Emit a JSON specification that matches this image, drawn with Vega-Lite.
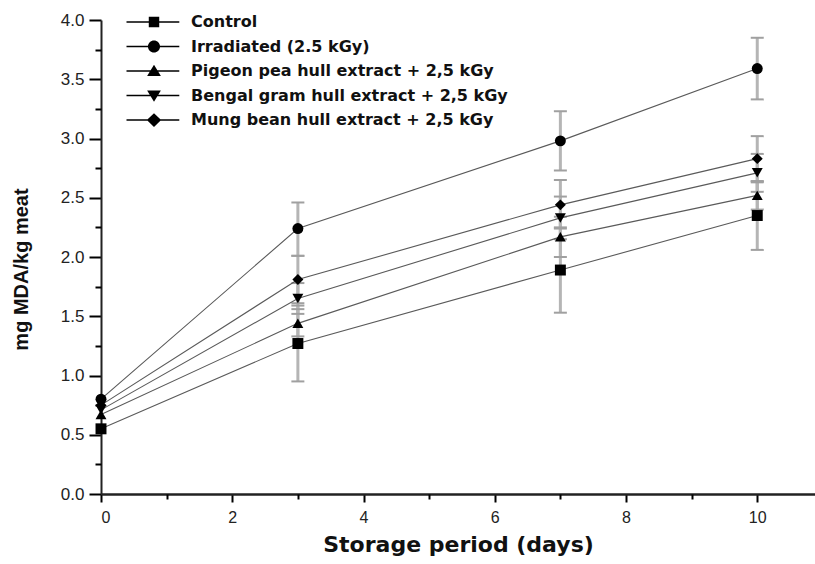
{
  "$schema": "https://vega.github.io/schema/vega-lite/v6.json",
  "width": 714,
  "height": 474,
  "autosize": {"type": "none"},
  "padding": {"left": 101, "top": 20, "right": 0, "bottom": 70},
  "config": {"view": {"stroke": "transparent"}},
  "data": {
    "values": [
      {"series": "Control", "day": 0, "mda": 0.55, "lo": null, "hi": null},
      {"series": "Control", "day": 3, "mda": 1.27, "lo": 0.95, "hi": 1.59},
      {"series": "Control", "day": 7, "mda": 1.89, "lo": 1.53, "hi": 2.25},
      {"series": "Control", "day": 10, "mda": 2.35, "lo": 2.06, "hi": 2.63},
      {"series": "Irradiated (2.5 kGy)", "day": 0, "mda": 0.80, "lo": null, "hi": null},
      {"series": "Irradiated (2.5 kGy)", "day": 3, "mda": 2.24, "lo": 2.01, "hi": 2.46},
      {"series": "Irradiated (2.5 kGy)", "day": 7, "mda": 2.98, "lo": 2.73, "hi": 3.23},
      {"series": "Irradiated (2.5 kGy)", "day": 10, "mda": 3.59, "lo": 3.33, "hi": 3.85},
      {"series": "Pigeon pea hull extract + 2,5 kGy", "day": 0, "mda": 0.67, "lo": null, "hi": null},
      {"series": "Pigeon pea hull extract + 2,5 kGy", "day": 3, "mda": 1.44, "lo": 1.33, "hi": 1.56},
      {"series": "Pigeon pea hull extract + 2,5 kGy", "day": 7, "mda": 2.17, "lo": 2.00, "hi": 2.34},
      {"series": "Pigeon pea hull extract + 2,5 kGy", "day": 10, "mda": 2.52, "lo": 2.40, "hi": 2.64},
      {"series": "Bengal gram hull extract + 2,5 kGy", "day": 0, "mda": 0.71, "lo": null, "hi": null},
      {"series": "Bengal gram hull extract + 2,5 kGy", "day": 3, "mda": 1.65, "lo": 1.52, "hi": 1.78},
      {"series": "Bengal gram hull extract + 2,5 kGy", "day": 7, "mda": 2.33, "lo": 2.15, "hi": 2.51},
      {"series": "Bengal gram hull extract + 2,5 kGy", "day": 10, "mda": 2.71, "lo": 2.55, "hi": 2.87},
      {"series": "Mung bean hull extract + 2,5 kGy", "day": 0, "mda": 0.75, "lo": null, "hi": null},
      {"series": "Mung bean hull extract + 2,5 kGy", "day": 3, "mda": 1.81, "lo": 1.61, "hi": 2.01},
      {"series": "Mung bean hull extract + 2,5 kGy", "day": 7, "mda": 2.44, "lo": 2.24, "hi": 2.65},
      {"series": "Mung bean hull extract + 2,5 kGy", "day": 10, "mda": 2.83, "lo": 2.64, "hi": 3.02}
    ]
  },
  "encoding": {
    "x": {"field": "day", "type": "quantitative", "scale": {"domain": [0, 10.88], "nice": false}, "axis": null},
    "y": {"field": "mda", "type": "quantitative", "scale": {"domain": [0, 4], "nice": false}, "axis": null}
  },
  "layer": [
    {
      "mark": {"type": "rule", "color": "#b5b5b5", "strokeWidth": 3},
      "encoding": {"y": {"field": "lo", "type": "quantitative", "axis": null}, "y2": {"field": "hi"}}
    },
    {
      "mark": {"type": "tick", "orient": "horizontal", "color": "#a0a0a0", "size": 13, "thickness": 2, "opacity": 1},
      "encoding": {"y": {"field": "lo", "type": "quantitative", "axis": null}}
    },
    {
      "mark": {"type": "tick", "orient": "horizontal", "color": "#a0a0a0", "size": 13, "thickness": 2, "opacity": 1},
      "encoding": {"y": {"field": "hi", "type": "quantitative", "axis": null}}
    },
    {
      "mark": {"type": "line", "color": "#5a5a5a", "strokeWidth": 1.1},
      "encoding": {"detail": {"field": "series"}}
    },
    {
      "mark": {"type": "point", "filled": true, "color": "black", "opacity": 1, "size": 120},
      "encoding": {
        "x": {
          "field": "day", "type": "quantitative",
          "axis": {
            "orient": "bottom", "gridOpacity": 0,
            "title": "Storage period (days)",
            "titleFont": "DejaVu Sans", "titleFontSize": 22, "titleFontWeight": "bold", "titlePadding": 9, "titleColor": "#111",
            "values": [0, 2, 4, 6, 8, 10],
            "labelFont": "Liberation Sans", "labelFontSize": 16, "labelPadding": 7, "labelColor": "#222",
            "tickSize": 8, "tickWidth": 2, "tickColor": "black", "domainWidth": 2.5, "domainColor": "#222"
          }
        },
        "y": {
          "field": "mda", "type": "quantitative",
          "axis": {
            "orient": "left", "gridOpacity": 0,
            "title": "mg MDA/kg meat",
            "titleFont": "Liberation Sans", "titleFontSize": 20, "titleFontWeight": "bold", "titlePadding": 29, "titleY": 249, "titleColor": "#111",
            "values": [0, 0.5, 1, 1.5, 2, 2.5, 3, 3.5, 4],
            "format": ".1f",
            "labelFont": "Liberation Sans", "labelFontSize": 17, "labelPadding": 5, "labelColor": "#222",
            "tickSize": 12, "tickWidth": 2, "tickColor": "black", "domainWidth": 2, "domainColor": "#222"
          }
        },
        "shape": {
          "field": "series", "type": "nominal",
          "scale": {
            "domain": ["Control", "Irradiated (2.5 kGy)", "Pigeon pea hull extract + 2,5 kGy", "Bengal gram hull extract + 2,5 kGy", "Mung bean hull extract + 2,5 kGy"],
            "range": ["square", "circle", "triangle-up", "triangle-down", "diamond"]
          },
          "legend": null
        }
      }
    },
    {
      "transform": [{"filter": "datum.day < 0"}],
      "mark": {"type": "point", "filled": true, "color": "black", "opacity": 1, "size": 121},
      "encoding": {
        "x": {
          "field": "day", "type": "quantitative",
          "axis": {"orient": "bottom", "gridOpacity": 0, "title": null, "labels": false, "domain": false, "values": [1, 3, 5, 7, 9], "tickSize": 5, "tickWidth": 2, "tickColor": "black"}
        },
        "y": {
          "field": "mda", "type": "quantitative",
          "axis": {"orient": "left", "gridOpacity": 0, "title": null, "labels": false, "domain": false, "values": [0.25, 0.75, 1.25, 1.75, 2.25, 2.75, 3.25, 3.75], "tickSize": 6, "tickWidth": 2, "tickColor": "black"}
        },
        "shape": {
          "field": "series", "type": "nominal",
          "scale": {
            "domain": ["Control", "Irradiated (2.5 kGy)", "Pigeon pea hull extract + 2,5 kGy", "Bengal gram hull extract + 2,5 kGy", "Mung bean hull extract + 2,5 kGy"],
            "range": [
              "M-5,-0.14H-0.5V0.14H-5Z M0.5,-0.14H4.6V0.14H0.5Z M-0.95,-0.95H0.95V0.95H-0.95Z",
              "M-5,-0.14H-0.5V0.14H-5Z M0.5,-0.14H4.6V0.14H0.5Z M-1.1,0A1.1,1.1,0,1,1,1.1,0A1.1,1.1,0,1,1,-1.1,0Z",
              "M-5,-0.14H-0.5V0.14H-5Z M0.5,-0.14H4.6V0.14H0.5Z M0,-1.15L1.25,0.9H-1.25Z",
              "M-5,-0.14H-0.5V0.14H-5Z M0.5,-0.14H4.6V0.14H0.5Z M0,1.15L-1.25,-0.9H1.25Z",
              "M-5,-0.14H-0.5V0.14H-5Z M0.5,-0.14H4.6V0.14H0.5Z M0,-1.25L1.3,0L0,1.25L-1.3,0Z"
            ]
          },
          "legend": {
            "title": null, "orient": "none", "legendX": 45, "legendY": -6, "padding": 0,
            "labelFont": "DejaVu Sans", "labelFontWeight": "bold", "labelFontSize": 16, "labelColor": "#111",
            "labelOffset": 29, "labelLimit": 600, "rowPadding": 8.5,
            "symbolSize": 121, "symbolFillColor": "black", "symbolStrokeWidth": 0, "symbolOpacity": 1
          }
        }
      }
    }
  ],
  "resolve": {
    "scale": {"shape": "independent"},
    "legend": {"shape": "independent"},
    "axis": {"x": "independent", "y": "independent"}
  }
}
